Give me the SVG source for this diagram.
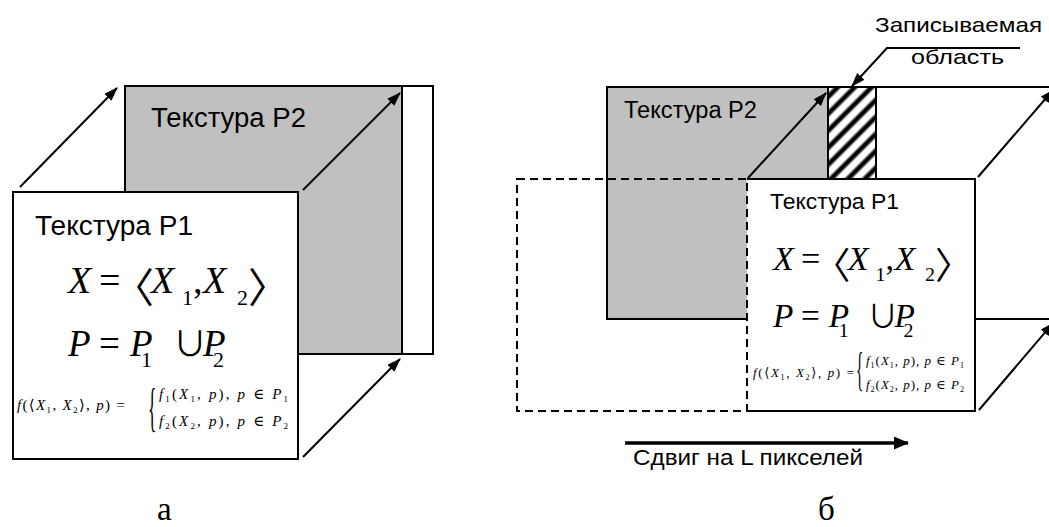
<svg xmlns="http://www.w3.org/2000/svg" width="1049" height="527" viewBox="0 0 1049 527">
<defs>
<style>
.box{stroke:#000;stroke-width:2}
.gray{fill:#c0c0c0}
.white{fill:#fff}
.lbl{font-family:"Liberation Sans",Arial,sans-serif;fill:#000}
.m{font-family:"Liberation Serif","Times New Roman","DejaVu Serif",serif;fill:#000}
.i{font-style:italic}
.br{font-family:"Noto Sans CJK JP","Noto Sans CJK SC","DejaVu Serif",sans-serif;font-style:normal}
.conn{stroke:#000;stroke-width:2;fill:none}
.thick{stroke:#000;stroke-width:3.5;fill:none}
.dash{fill:none;stroke:#000;stroke-width:2;stroke-dasharray:8 5}
.cap{font-family:"Liberation Serif","Times New Roman",serif;font-size:33px;fill:#000}
</style>
<marker id="ah" markerUnits="userSpaceOnUse" markerWidth="16" markerHeight="12" refX="13" refY="5" orient="auto"><path d="M0,0 L14,5 L0,10 z" fill="#000"/></marker>
<marker id="ahBig" markerUnits="userSpaceOnUse" markerWidth="17" markerHeight="15" refX="14" refY="6.5" orient="auto"><path d="M0,0 L15,6.5 L0,13 z" fill="#000"/></marker>
<linearGradient id="stripeGrad" x1="0" y1="0" x2="1" y2="0">
<stop offset="0" stop-color="#fff"/><stop offset="0.2" stop-color="#fff"/><stop offset="0.4" stop-color="#000"/><stop offset="0.6" stop-color="#000"/><stop offset="0.8" stop-color="#fff"/><stop offset="1" stop-color="#fff"/>
</linearGradient>
<pattern id="hatch" patternUnits="userSpaceOnUse" width="12" height="12" patternTransform="rotate(45)"><rect width="12" height="12" fill="url(#stripeGrad)"/></pattern>
</defs>

<!-- Left panel (а) -->
<g id="left-p2">
<rect class="box gray" x="125" y="86" width="277" height="268"/>
<text class="lbl" x="151" y="127" font-size="27" textLength="155" lengthAdjust="spacingAndGlyphs">Текстура P2</text>
</g>
<g id="left-p2-ext">
<rect class="box white" x="402" y="86" width="31" height="268"/>
</g>
<g id="left-p1">
<rect class="box white" x="13" y="192" width="285" height="267"/>
<text class="lbl" x="35" y="235" font-size="27" textLength="158" lengthAdjust="spacingAndGlyphs">Текстура P1</text>
<g transform="translate(68,293)">
<text class="m" font-size="38"><tspan class="i" x="0" y="0">X</tspan><tspan x="31" y="0">=</tspan><tspan class="br" x="45" y="10" font-size="41">〈</tspan><tspan class="i" x="83" y="0">X</tspan><tspan x="114" y="12" font-size="22">1</tspan><tspan x="125" y="0">,</tspan><tspan class="i" x="135" y="0">X</tspan><tspan x="169" y="12" font-size="22">2</tspan><tspan class="br" x="180" y="10" font-size="41">〉</tspan></text>
<text class="m" font-size="37"><tspan class="i" x="0" y="63">P</tspan><tspan x="31" y="63">=</tspan><tspan class="i" x="62" y="63">P</tspan><tspan x="73" y="74" font-size="22">1</tspan><tspan class="br" x="105" y="63" font-size="34">∪</tspan><tspan class="i" x="135" y="63">P</tspan><tspan x="145" y="74" font-size="22">2</tspan></text>
</g>
<g transform="translate(17,410)">
<text class="m" font-size="15" x="0" y="0" textLength="108" lengthAdjust="spacing"><tspan class="i">f</tspan>(⟨<tspan class="i">X</tspan><tspan font-size="9" dy="3">1</tspan><tspan dy="-3">, </tspan><tspan class="i">X</tspan><tspan font-size="9" dy="3">2</tspan><tspan dy="-3">⟩, </tspan><tspan class="i">p</tspan>) =</text>
<text class="m" font-size="22" transform="translate(131,15) scale(0.8,2.4)">{</text>
<text class="m" font-size="15" x="142" y="-11" textLength="129" lengthAdjust="spacing"><tspan class="i">f</tspan><tspan font-size="9" dy="3">1</tspan><tspan dy="-3">(</tspan><tspan class="i">X</tspan><tspan font-size="9" dy="3">1</tspan><tspan dy="-3">, </tspan><tspan class="i">p</tspan>), <tspan class="i">p</tspan> ∈ <tspan class="i">P</tspan><tspan font-size="9" dy="3">1</tspan></text>
<text class="m" font-size="15" x="142" y="16" textLength="129" lengthAdjust="spacing"><tspan class="i">f</tspan><tspan font-size="9" dy="3">2</tspan><tspan dy="-3">(</tspan><tspan class="i">X</tspan><tspan font-size="9" dy="3">2</tspan><tspan dy="-3">, </tspan><tspan class="i">p</tspan>), <tspan class="i">p</tspan> ∈ <tspan class="i">P</tspan><tspan font-size="9" dy="3">2</tspan></text>
</g>
</g>
<text id="caption-a" class="cap" x="157" y="520">а</text>

<!-- Right panel (б) -->
<g id="right-p2">
<rect class="box gray" x="607" y="87" width="221" height="232"/>
<text class="lbl" x="624" y="118" font-size="23.5" textLength="133" lengthAdjust="spacingAndGlyphs">Текстура P2</text>
</g>
<g id="right-ext">
<rect class="box white" x="876" y="87" width="190" height="232"/>
</g>
<g id="right-hatch">
<rect class="box" x="828" y="87" width="48" height="232" fill="url(#hatch)"/>
</g>
<g id="right-p1">
<rect class="white" x="747" y="179" width="228" height="232"/>
<path class="box" fill="none" d="M747,179 H975 V411 H747"/>
<text class="lbl" x="770" y="209" font-size="22.5" textLength="129" lengthAdjust="spacingAndGlyphs">Текстура P1</text>
<g transform="translate(773,270) scale(0.9)">
<text class="m" font-size="38"><tspan class="i" x="0" y="0">X</tspan><tspan x="31" y="0">=</tspan><tspan class="br" x="45" y="10" font-size="41">〈</tspan><tspan class="i" x="83" y="0">X</tspan><tspan x="114" y="12" font-size="22">1</tspan><tspan x="125" y="0">,</tspan><tspan class="i" x="135" y="0">X</tspan><tspan x="169" y="12" font-size="22">2</tspan><tspan class="br" x="180" y="10" font-size="41">〉</tspan></text>
<text class="m" font-size="37"><tspan class="i" x="0" y="63">P</tspan><tspan x="31" y="63">=</tspan><tspan class="i" x="62" y="63">P</tspan><tspan x="73" y="74" font-size="22">1</tspan><tspan class="br" x="105" y="63" font-size="34">∪</tspan><tspan class="i" x="135" y="63">P</tspan><tspan x="145" y="74" font-size="22">2</tspan></text>
</g>
<g transform="translate(753,377)">
<text class="m" font-size="13" x="0" y="0" textLength="101" lengthAdjust="spacing"><tspan class="i">f</tspan>(⟨<tspan class="i">X</tspan><tspan font-size="8" dy="3">1</tspan><tspan dy="-3">, </tspan><tspan class="i">X</tspan><tspan font-size="8" dy="3">2</tspan><tspan dy="-3">⟩, </tspan><tspan class="i">p</tspan>) =</text>
<text class="m" font-size="19" transform="translate(103,8) scale(0.8,2.4)">{</text>
<text class="m" font-size="13" x="113" y="-12" textLength="98" lengthAdjust="spacing"><tspan class="i">f</tspan><tspan font-size="8" dy="3">1</tspan><tspan dy="-3">(</tspan><tspan class="i">X</tspan><tspan font-size="8" dy="3">1</tspan><tspan dy="-3">, </tspan><tspan class="i">p</tspan>), <tspan class="i">p</tspan> ∈ <tspan class="i">P</tspan><tspan font-size="8" dy="3">1</tspan></text>
<text class="m" font-size="13" x="113" y="12" textLength="98" lengthAdjust="spacing"><tspan class="i">f</tspan><tspan font-size="8" dy="3">2</tspan><tspan dy="-3">(</tspan><tspan class="i">X</tspan><tspan font-size="8" dy="3">2</tspan><tspan dy="-3">, </tspan><tspan class="i">p</tspan>), <tspan class="i">p</tspan> ∈ <tspan class="i">P</tspan><tspan font-size="8" dy="3">2</tspan></text>
</g>
</g>
<g id="right-shadow">
<rect class="dash" x="517" y="179" width="230" height="232"/>
</g>
<g id="label-writable">
<text class="lbl" x="875" y="32" font-size="21" textLength="167" lengthAdjust="spacingAndGlyphs">Записываемая</text>
<text class="lbl" x="911" y="64" font-size="21" textLength="93" lengthAdjust="spacingAndGlyphs">область</text>
</g>
<g id="label-shift">
<text class="lbl" x="633" y="465" font-size="22.5" textLength="230" lengthAdjust="spacingAndGlyphs">Сдвиг на L пикселей</text>
</g>
<text id="caption-b" class="cap" x="818" y="520">б</text>

<g id="connectors">
<line class="conn" x1="20" y1="187" x2="117" y2="88" marker-end="url(#ah)"/>
<line class="conn" x1="303" y1="190" x2="400" y2="93" marker-end="url(#ah)"/>
<line class="conn" x1="303" y1="457" x2="400" y2="359" marker-end="url(#ah)"/>
<line class="conn" x1="748" y1="178" x2="826" y2="93" marker-end="url(#ah)"/>
<line class="conn" x1="978" y1="177" x2="1053" y2="90" marker-end="url(#ah)"/>
<line class="conn" x1="979" y1="410" x2="1053" y2="323" marker-end="url(#ah)"/>
<polyline class="conn" points="1020,48 887,48 852,86" marker-end="url(#ah)"/>
<line class="thick" x1="625" y1="443" x2="908" y2="443" marker-end="url(#ahBig)"/>
</g>
</svg>
